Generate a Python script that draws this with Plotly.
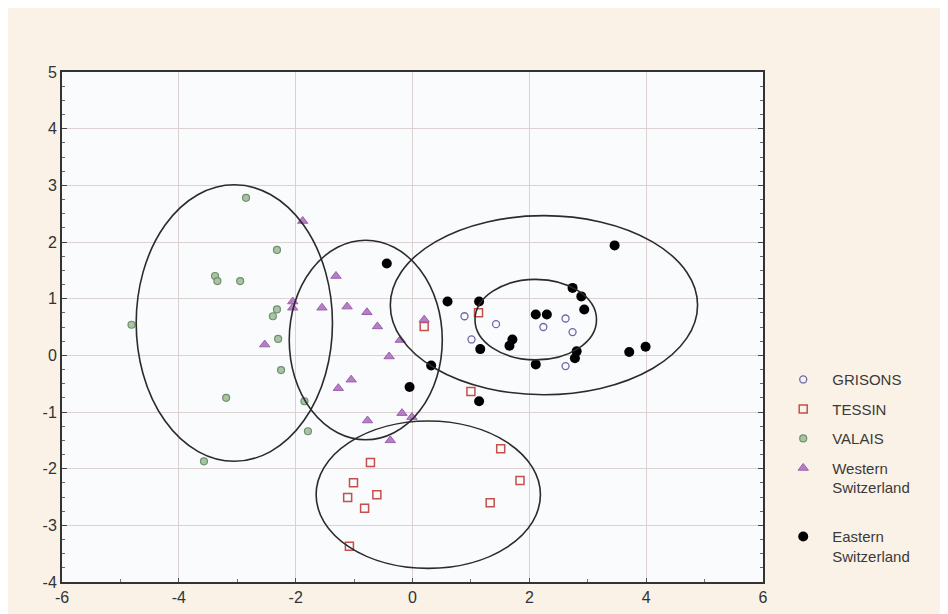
import plotly.graph_objects as go

# ---- data ----
grisons_x = [0.89, 1.43, 1.01, 2.24, 2.62, 2.74, 2.62]
grisons_y = [0.69, 0.55, 0.28, 0.50, 0.65, 0.41, -0.19]

tessin_x = [0.20, 1.13, 1.00, 1.51, 1.84, -0.72, -1.01, -1.11, -0.61, -0.82, 1.33, -1.08]
tessin_y = [0.51, 0.75, -0.64, -1.65, -2.21, -1.89, -2.25, -2.51, -2.46, -2.70, -2.60, -3.37]

valais_x = [-2.85, -2.32, -3.38, -3.34, -2.95, -2.32, -2.39, -4.81, -2.30, -2.25, -3.19, -1.85, -1.79, -3.57]
valais_y = [2.78, 1.86, 1.40, 1.31, 1.31, 0.81, 0.69, 0.54, 0.29, -0.26, -0.75, -0.81, -1.34, -1.87]

western_x = [-1.88, -1.31, -2.05, -2.05, -1.55, -1.12, -0.78, -0.60, -0.21, -0.40, 0.20,
             -2.53, -1.05, -1.27, -0.18, -0.01, -0.77, -0.38]
western_y = [2.37, 1.40, 0.95, 0.84, 0.84, 0.86, 0.76, 0.51, 0.27, -0.02, 0.63,
             0.19, -0.43, -0.58, -1.02, -1.09, -1.15, -1.50]

eastern_x = [3.46, 2.74, 2.89, 2.94, 2.11, 2.30, 0.60, 1.14, 1.71, 1.66, 1.16, 2.81, 2.78,
             2.11, 3.71, 3.99, 0.32, 1.14, -0.44, -0.05]
eastern_y = [1.94, 1.19, 1.04, 0.81, 0.72, 0.72, 0.95, 0.95, 0.28, 0.17, 0.11, 0.07, -0.05,
             -0.16, 0.06, 0.15, -0.18, -0.81, 1.62, -0.56]

# confidence ellipses: centre and half-axes
ell_cx = [-3.05, -0.80, 0.27, 2.25, 2.11]
ell_cy = [0.57, 0.27, -2.46, 0.885, 0.63]
ell_rx = [1.68, 1.31, 1.92, 2.63, 1.04]
ell_ry = [2.44, 1.76, 1.30, 1.58, 0.71]

x_ticks = [-6, -4, -2, 0, 2, 4, 6]
y_ticks = [-4, -3, -2, -1, 0, 1, 2, 3, 4, 5]

fig = go.Figure()

fig.add_trace(go.Scatter(x=grisons_x, y=grisons_y, mode="markers", name="GRISONS",
                         legendgroup="g1",
                         marker=dict(symbol="circle-open", size=7, color="#6a68a8",
                                     line=dict(width=1.3, color="#6a68a8"))))
fig.add_trace(go.Scatter(x=tessin_x, y=tessin_y, mode="markers", name="TESSIN",
                         legendgroup="g2",
                         marker=dict(symbol="square-open", size=8, color="#c4504c",
                                     line=dict(width=1.5, color="#c4504c"))))
fig.add_trace(go.Scatter(x=valais_x, y=valais_y, mode="markers", name="VALAIS",
                         legendgroup="g3",
                         marker=dict(symbol="circle", size=7, color="#a8c4a2",
                                     line=dict(width=1.2, color="#6f8f6f"))))
fig.add_trace(go.Scatter(x=western_x, y=western_y, mode="markers", name="Western<br>Switzerland<br> ",
                         legendgroup="g4",
                         marker=dict(symbol="triangle-up", size=9, color="#b57ec6",
                                     line=dict(width=1, color="#9a62ad"))))
fig.add_trace(go.Scatter(x=eastern_x, y=eastern_y, mode="markers", name="Eastern<br>Switzerland",
                         legendgroup="g5",
                         marker=dict(symbol="circle", size=10, color="#000000")))

for cx, cy, rx, ry in zip(ell_cx, ell_cy, ell_rx, ell_ry):
    fig.add_shape(type="circle", xref="x", yref="y",
                  x0=cx - rx, x1=cx + rx, y0=cy - ry, y1=cy + ry,
                  line=dict(color="#2b2b2b", width=1.6), layer="above")

axis_font = dict(family="Liberation Sans, Arial, sans-serif", size=16, color="#333333")

fig.update_xaxes(range=[-6, 6], tickvals=x_ticks, ticktext=[str(v) for v in x_ticks],
                 showgrid=True, gridcolor="#dcd2d2", gridwidth=1, zeroline=False,
                 showline=True, linecolor="#333333", linewidth=2, mirror=True,
                 ticks="inside", ticklen=4, tickcolor="#555555",
                 minor=dict(dtick=1, ticks="inside", ticklen=3, tickcolor="#777777", showgrid=False),
                 tickfont=axis_font)
fig.update_yaxes(range=[-4, 5], tickvals=y_ticks, ticktext=[str(v) for v in y_ticks],
                 showgrid=True, gridcolor="#dcd2d2", gridwidth=1, zeroline=False,
                 showline=True, linecolor="#333333", linewidth=2, mirror="allticks",
                 ticks="inside", ticklen=5, tickcolor="#444444",
                 minor=dict(dtick=0.25, ticks="inside", ticklen=3, tickcolor="#666666", showgrid=False),
                 tickfont=axis_font)

fig.update_layout(
    width=948, height=614,
    margin=dict(l=54, r=193, t=64, b=40),
    paper_bgcolor="#faf2e6",
    plot_bgcolor="#f9fbfc",
    showlegend=True,
    legend=dict(x=1.016, y=0.429, xanchor="left", yanchor="top",
                bgcolor="rgba(0,0,0,0)", tracegroupgap=7, itemwidth=48, valign="top",
                font=dict(family="Liberation Sans, Arial, sans-serif", size=15, color="#3a3a3a")),
)

fig.write_html("out.html")
